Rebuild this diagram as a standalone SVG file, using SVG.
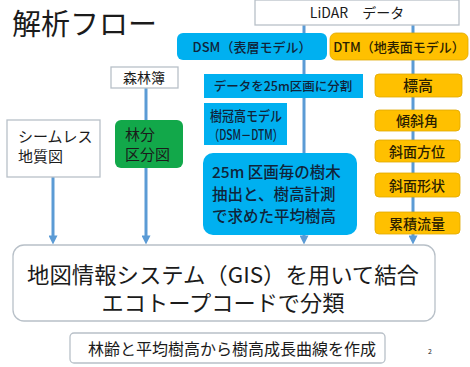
<svg xmlns="http://www.w3.org/2000/svg" width="470" height="367" viewBox="0 0 470 367">
<style>
text{font-family:"Noto Sans CJK JP","Noto Sans",sans-serif;fill:#1b1b1b}
.w{fill:#fff;stroke:#b8c0c8;stroke-width:1.3}
.b{fill:#00b0f0}
.o{fill:#ffc000;stroke:#e0a800;stroke-width:0.8}
.g{fill:#12a84a}
.c{fill:none;stroke:#5b9bd5;stroke-width:3}
.bt{fill:#10243a;font-weight:500}
.ot{fill:#2a2000;font-weight:500}
.m{text-anchor:middle}
</style>
<defs>
<marker id="ah" viewBox="0 0 10 10" refX="5" refY="5" markerWidth="11" markerHeight="9" markerUnits="userSpaceOnUse" orient="auto">
<path d="M0,0 L10,5 L0,10 z" fill="#5b9bd5"/>
</marker>
</defs>
<rect width="470" height="367" fill="#fff"/>
<text x="12" y="35" font-size="29">解析フロー</text>
<g id="connectors">
<path class="c" d="M304,25 V240" marker-end="url(#ah)"/>
<path class="c" d="M413,25 V240" marker-end="url(#ah)"/>
<path class="c" d="M146,88 V240" marker-end="url(#ah)"/>
<path class="c" d="M53,177 V240" marker-end="url(#ah)"/>
</g>
<g id="lidar">
<rect class="w" x="255" y="0" width="204" height="25"/>
<text class="m" x="357" y="18" font-size="14">LiDAR　データ</text>
</g>
<g id="dsm">
<rect class="b" x="177" y="33" width="150" height="27" rx="6"/>
<text class="m bt" x="252" y="52" font-size="13">DSM（表層モデル）</text>
</g>
<g id="dtm">
<rect class="o" x="330" y="33" width="138" height="27" rx="6"/>
<text class="m ot" x="399" y="52" font-size="13">DTM（地表面モデル）</text>
</g>
<g id="split">
<rect class="b" x="204" y="74" width="159" height="24"/>
<text class="m bt" x="283" y="91" font-size="12.5">データを25m区画に分割</text>
</g>
<g id="chm">
<rect class="b" x="204" y="103" width="83" height="42"/>
<text class="bt" x="210" y="121" font-size="14" textLength="72" lengthAdjust="spacingAndGlyphs">樹冠高モデル</text>
<text class="bt" x="209" y="140" font-size="14" textLength="74" lengthAdjust="spacingAndGlyphs">（DSM－DTM）</text>
</g>
<g id="treeheight">
<rect class="b" x="203" y="153" width="154" height="82" rx="10"/>
<text class="bt" x="212" y="178" font-size="15.5">25m 区画毎の樹木</text>
<text class="bt" x="212" y="200" font-size="15.5">抽出と、樹高計測</text>
<text class="bt" x="212" y="222" font-size="15.5">で求めた平均樹高</text>
</g>
<g id="elev">
<rect class="o" x="375" y="74" width="87" height="23" rx="4"/>
<text class="m ot" x="418" y="91" font-size="15">標高</text>
</g>
<g id="slope">
<rect class="o" x="375" y="110" width="85" height="21" rx="4"/>
<text class="m ot" x="417" y="126" font-size="14">傾斜角</text>
</g>
<g id="aspect">
<rect class="o" x="375" y="140" width="85" height="22" rx="4"/>
<text class="m ot" x="417" y="157" font-size="14">斜面方位</text>
</g>
<g id="shape">
<rect class="o" x="375" y="173" width="85" height="24" rx="4"/>
<text class="m ot" x="417" y="191" font-size="14">斜面形状</text>
</g>
<g id="flow">
<rect class="o" x="375" y="212" width="85" height="22" rx="4"/>
<text class="m ot" x="417" y="229" font-size="14">累積流量</text>
</g>
<g id="shinrinbo">
<rect class="w" x="111" y="67" width="67" height="21"/>
<text class="m" x="144" y="83" font-size="14">森林簿</text>
</g>
<g id="rinpan">
<rect class="g" x="115" y="120" width="68" height="48" rx="6"/>
<text x="125" y="140" font-size="15" fill="#142814">林分</text>
<text x="125" y="160" font-size="15" fill="#142814">区分図</text>
</g>
<g id="geology">
<rect class="w" x="7" y="120" width="93" height="57"/>
<text x="18" y="142" font-size="15">シームレス</text>
<text x="18" y="162" font-size="15">地質図</text>
</g>
<g id="gis">
<rect class="w" x="13" y="245" width="422" height="76" rx="11"/>
<text class="m" x="223" y="283" font-size="22" textLength="392" lengthAdjust="spacingAndGlyphs">地図情報システム（GIS）を用いて結合</text>
<text class="m" x="223" y="311" font-size="22" textLength="243" lengthAdjust="spacingAndGlyphs">エコトープコードで分類</text>
</g>
<g id="growth">
<rect class="w" x="70" y="333" width="315" height="30" rx="4"/>
<text class="m" x="232" y="355" font-size="16">林齢と平均樹高から樹高成長曲線を作成</text>
</g>
<text x="428" y="354" font-size="7" fill="#aaa">2</text>
</svg>
